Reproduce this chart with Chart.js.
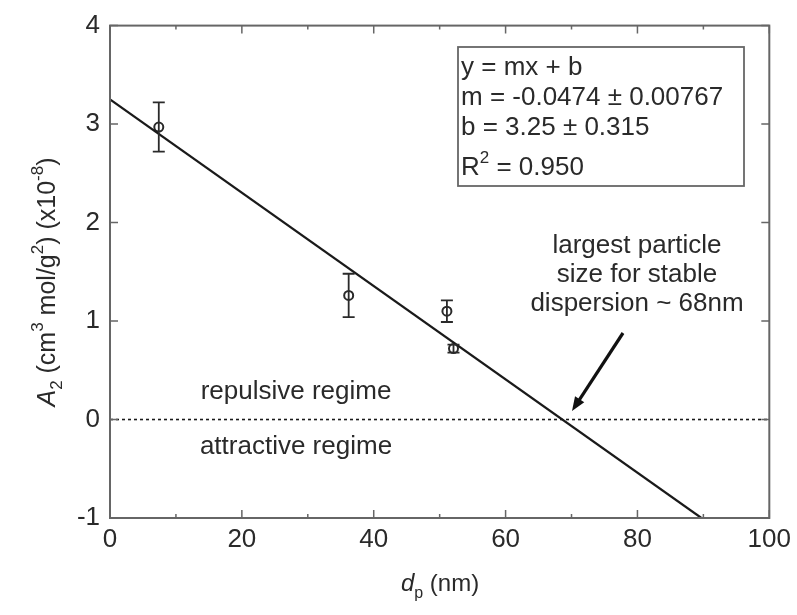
<!DOCTYPE html>
<html>
<head>
<meta charset="utf-8">
<script src="https://cdn.jsdelivr.net/npm/chart.js@4.4.1/dist/chart.umd.min.js"></script>
<style>
  html, body { margin: 0; padding: 0; background: #fff; }
  #wrap { width: 797px; height: 615px; position: relative; }
</style>
</head>
<body>
<div id="wrap"><canvas id="c" width="797" height="615"></canvas></div>
<script>
// ---- data ----
const particleSize = [7.4, 36.2, 51.1, 52.1];      // d_p (nm)
const a2Values     = [2.97, 1.26, 1.10, 0.72];     // A2 (x10^-8)
const a2Errors     = [0.25, 0.22, 0.11, 0.04];     // error bar half-heights
const fitX = [0, 89.7];                             // fitted line endpoints (y = mx + b)
const fitY = [3.25, -1.0];
const zeroX = [0, 100];
const zeroY = [0, 0];
const xTicks = [0, 20, 40, 60, 80, 100];
const yTicks = [-1, 0, 1, 2, 3, 4];
const fitText = ["y = mx + b", "m = -0.0474 \u00b1 0.00767", "b = 3.25 \u00b1 0.315"];
const annotText = ["largest particle", "size for stable", "dispersion ~ 68nm"];
const regimeText = ["repulsive regime", "attractive regime"];

const FONT = "'Liberation Sans', Arial, Helvetica, sans-serif";
const INK = "#2a2a2a";
const FS = 26;

function richText(ctx, segs, x, y, size, align) {
  const fontFor = (k) => {
    const s = (k === 'sub' || k === 'sup') ? Math.round(size * 0.66) : size;
    return (k === 'i' ? 'italic ' : '') + s + 'px ' + FONT;
  };
  let total = 0;
  segs.forEach(([t, k]) => { ctx.font = fontFor(k); total += ctx.measureText(t).width; });
  let cx = align === 'center' ? x - total / 2 : x;
  ctx.textBaseline = 'alphabetic';
  ctx.textAlign = 'left';
  segs.forEach(([t, k]) => {
    ctx.font = fontFor(k);
    let dy = 0;
    if (k === 'sub') dy = size * 0.28;
    if (k === 'sup') dy = -size * 0.48;
    ctx.fillText(t, cx, y + dy);
    cx += ctx.measureText(t).width;
  });
}

const decor = {
  id: 'decor',
  afterDatasetsDraw(chart) {
    const ctx = chart.ctx;
    const xs = chart.scales.x, ys = chart.scales.y;
    const L = xs.left, R = xs.right, T = ys.top, B = ys.bottom;
    ctx.save();
    // frame
    ctx.strokeStyle = '#666';
    ctx.lineWidth = 2;
    ctx.strokeRect(L, T, R - L, B - T);
    // inward ticks
    ctx.lineWidth = 1.5;
    for (let v = 0; v <= 100; v += 10) {
      const px = xs.getPixelForValue(v);
      const len = (v % 20 === 0) ? 8 : 4;
      ctx.beginPath();
      ctx.moveTo(px, B); ctx.lineTo(px, B - len);
      ctx.moveTo(px, T); ctx.lineTo(px, T + len);
      ctx.stroke();
    }
    yTicks.forEach(v => {
      const py = ys.getPixelForValue(v);
      ctx.beginPath();
      ctx.moveTo(L, py); ctx.lineTo(L + 8, py);
      ctx.moveTo(R, py); ctx.lineTo(R - 8, py);
      ctx.stroke();
    });
    // error bars
    ctx.strokeStyle = INK;
    ctx.lineWidth = 1.8;
    particleSize.forEach((xv, i) => {
      const px = xs.getPixelForValue(xv);
      const yt = ys.getPixelForValue(a2Values[i] + a2Errors[i]);
      const yb = ys.getPixelForValue(a2Values[i] - a2Errors[i]);
      ctx.beginPath();
      ctx.moveTo(px, yt); ctx.lineTo(px, yb);
      ctx.moveTo(px - 6, yt); ctx.lineTo(px + 6, yt);
      ctx.moveTo(px - 6, yb); ctx.lineTo(px + 6, yb);
      ctx.stroke();
    });
    // fit box
    ctx.fillStyle = INK;
    ctx.strokeStyle = '#666';
    ctx.lineWidth = 1.8;
    ctx.strokeRect(458, 47, 286, 139);
    ctx.font = FS + 'px ' + FONT;
    ctx.textAlign = 'left';
    ctx.textBaseline = 'alphabetic';
    fitText.forEach((t, i) => ctx.fillText(t, 461, 75 + i * 30));
    richText(ctx, [['R', 'n'], ['2', 'sup'], [' = 0.950', 'n']], 461, 175, FS, 'left');
    // annotation
    ctx.font = FS + 'px ' + FONT;
    ctx.textAlign = 'center';
    annotText.forEach((t, i) => ctx.fillText(t, 637, 253 + i * 29));
    // regimes
    regimeText.forEach((t, i) => ctx.fillText(t, 296, 399 + i * 55));
    // arrow
    const ax0 = 623, ay0 = 333, ax1 = 572, ay1 = 411;
    ctx.strokeStyle = '#111';
    ctx.fillStyle = '#111';
    ctx.lineWidth = 3.2;
    const ang = Math.atan2(ay1 - ay0, ax1 - ax0);
    ctx.beginPath();
    ctx.moveTo(ax0, ay0);
    ctx.lineTo(ax1 - 8 * Math.cos(ang), ay1 - 8 * Math.sin(ang));
    ctx.stroke();
    ctx.beginPath();
    ctx.moveTo(ax1, ay1);
    ctx.lineTo(ax1 - 14 * Math.cos(ang) + 5.5 * Math.sin(ang), ay1 - 14 * Math.sin(ang) - 5.5 * Math.cos(ang));
    ctx.lineTo(ax1 - 14 * Math.cos(ang) - 5.5 * Math.sin(ang), ay1 - 14 * Math.sin(ang) + 5.5 * Math.cos(ang));
    ctx.closePath();
    ctx.fill();
    // axis titles
    ctx.fillStyle = INK;
    richText(ctx, [['d', 'i'], ['p', 'sub'], [' (nm)', 'n']], 440, 591, 24, 'center');
    ctx.save();
    ctx.translate(55, 282);
    ctx.rotate(-Math.PI / 2);
    richText(ctx, [['A', 'i'], ['2', 'sub'], [' (cm', 'n'], ['3', 'sup'], [' mol/g', 'n'], ['2', 'sup'], [') (x10', 'n'], ['-8', 'sup'], [')', 'n']], 0, 0, 25, 'center');
    ctx.restore();
    ctx.restore();
  }
};

new Chart(document.getElementById('c'), {
  type: 'scatter',
  data: {
    datasets: [
      {
        label: 'fit',
        data: fitX.map((x, i) => ({ x, y: fitY[i] })),
        showLine: true, borderColor: '#1a1a1a', borderWidth: 2.2, pointRadius: 0, fill: false
      },
      {
        label: 'zero',
        data: zeroX.map((x, i) => ({ x, y: zeroY[i] })),
        showLine: true, borderColor: '#1a1a1a', borderWidth: 1.6, borderDash: [3, 3], pointRadius: 0, fill: false
      },
      {
        label: 'A2',
        data: particleSize.map((x, i) => ({ x, y: a2Values[i] })),
        pointRadius: 4.5, pointBorderWidth: 2, pointBorderColor: INK, pointBackgroundColor: 'rgba(255,255,255,0.6)'
      }
    ]
  },
  options: {
    responsive: false,
    animation: false,
    events: [],
    layout: { padding: { top: 20, right: 27, left: 0, bottom: 0 } },
    plugins: { legend: { display: false }, tooltip: { enabled: false } },
    scales: {
      x: {
        type: 'linear', min: 0, max: 100,
        afterFit: (s) => { s.height = 97; },
        afterBuildTicks: (s) => { s.ticks = xTicks.map(v => ({ value: v })); },
        grid: { display: false, drawTicks: false },
        border: { display: false },
        ticks: { color: INK, font: { family: FONT, size: FS }, padding: 6, maxRotation: 0 }
      },
      y: {
        type: 'linear', min: -1, max: 4,
        afterFit: (s) => { s.width = 110; },
        afterBuildTicks: (s) => { s.ticks = yTicks.map(v => ({ value: v })); },
        grid: { display: false, drawTicks: false },
        border: { display: false },
        ticks: { color: INK, font: { family: FONT, size: FS }, padding: 10 }
      }
    }
  },
  plugins: [decor]
});
</script>
</body>
</html>
